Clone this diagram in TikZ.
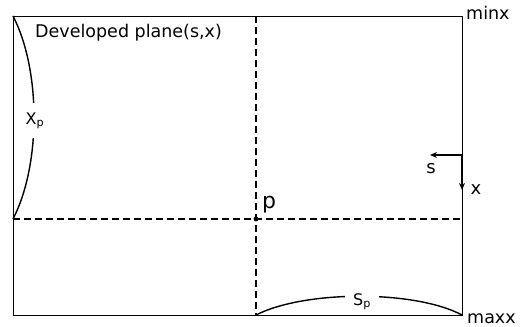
\documentclass[tikz,border=0pt]{standalone}
\usepackage{fontspec}
\setmainfont{DejaVu Sans}
\usetikzlibrary{arrows.meta,positioning}
\tikzset{
  frame/.style={draw=black,line width=0.9pt},
  guide/.style={draw=black,line width=1.3pt,dash pattern=on 7pt off 4pt},
  bow/.style={draw=black,line width=1.4pt},
  ar/.style={-{Stealth[length=7pt,width=6pt]},line width=1.2pt},
  lab/.style={inner sep=0pt,font=\fontsize{17.5}{20}\selectfont},
  axlab/.style={inner sep=0pt,font=\fontsize{18}{21}\selectfont},
  sub/.style={fill=white,inner sep=0pt,font=\fontsize{16}{18}\selectfont},
}
\begin{document}
\begin{tikzpicture}[x=1pt,y=-1pt]
  \useasboundingbox (0,0) rectangle (529,326);
  \coordinate (tl) at (13,16);
  \coordinate (tr) at (462,16);
  \coordinate (br) at (462,315);
  \coordinate (bl) at (13,315);
  \coordinate (p) at (256,219);
  \coordinate (pt) at (p |- tl);
  \coordinate (pb) at (p |- bl);
  \coordinate (pl) at (tl |- p);
  \coordinate (pr) at (tr |- p);
  \coordinate (o) at (462,155);
  \coordinate (sa) at (430,155);
  \coordinate (xa) at (462,190);
  \draw[frame] (tl) rectangle (br);
  \draw[guide] (pt) -- (pb);
  \draw[guide] (pl) -- (pr);
  \fill (p) circle (2.4pt);
  \draw[bow] (tl) .. controls (41,70) and (41,165) .. (pl);
  \draw[bow] (pb) .. controls (305,290) and (415,290) .. (br);
  \draw[ar] (o) -- (sa);
  \draw[ar] (o) -- (xa);
  \node[sub,inner xsep=2pt,inner ysep=9pt,anchor=base] (xp) at (35,124) {X\textsubscript{p}};
  \node[sub,inner xsep=8pt,inner ysep=3pt,anchor=base] (sp) at (362,305) {S\textsubscript{p}};
  \node[lab,anchor=base west] (title) at (35,38) {Developed plane(s,x)};
  \node[lab,anchor=base west] (minx) at (466,20) {minx};
  \node[lab,anchor=base west] (maxx) at (467,323) {maxx};
  \node[lab,anchor=base west,font=\fontsize{22}{25}\selectfont] (plab) at (262,208) {p};
  \node[axlab,anchor=base] (slab) at (431,173) {s};
  \node[axlab,anchor=base] (xlab) at (476,194) {x};
\end{tikzpicture}
\end{document}
